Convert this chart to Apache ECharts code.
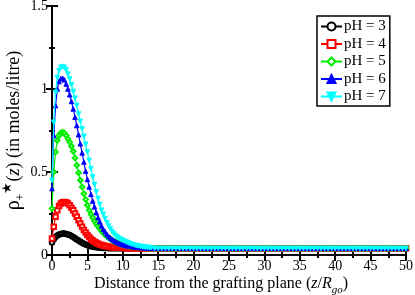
<!DOCTYPE html>
<html>
<head>
<meta charset="utf-8">
<script src="https://cdn.jsdelivr.net/npm/echarts@6/dist/echarts.min.js"></script>
<style>html,body{margin:0;padding:0;background:#fff}#c{width:415px;height:295px}</style>
</head>
<body>
<div id="c"></div>
<script>
// distance z/Rgo grid
var zDense = [0,0.25,0.5,0.75,1,1.25,1.5,1.75,2,2.25,2.5,2.75,3,3.25,3.5,3.75,4,4.25,4.5,4.75,5,5.25,5.5,5.75,6,6.25,6.5,6.75,7,7.25,7.5,7.75,8,8.25,8.5,8.75,9,9.25,9.5,9.75,10,10.25,10.5,10.75,11,11.25,11.5,11.75,12,12.25,12.5,12.75,13,13.25,13.5,13.75,14];
var zTail = [14.5,15,15.5,16,16.5,17,17.5,18,18.5,19,19.5,20,20.5,21,21.5,22,22.5,23,23.5,24,24.5,25,25.5,26,26.5,27,27.5,28,28.5,29,29.5,30,30.5,31,31.5,32,32.5,33,33.5,34,34.5,35,35.5,36,36.5,37,37.5,38,38.5,39,39.5,40,40.5,41,41.5,42,42.5,43,43.5,44,44.5,45,45.5,46,46.5,47,47.5,48,48.5,49,49.5,50];
var rhoTail = [0.04,0.04,0.04,0.04,0.04,0.04,0.04,0.04,0.04,0.04,0.04,0.04,0.04,0.04,0.04,0.04,0.04,0.04,0.04,0.04,0.04,0.04,0.04,0.04,0.04,0.04,0.04,0.04,0.04,0.04,0.04,0.04,0.04,0.04,0.04,0.04,0.04,0.04,0.04,0.04,0.04,0.04,0.04,0.04,0.04,0.04,0.04,0.04,0.04,0.04,0.04,0.04,0.04,0.04,0.04,0.04,0.04,0.04,0.04,0.04,0.04,0.04,0.04,0.04,0.04,0.04,0.04,0.04,0.04,0.04,0.04,0.04];

var seriesNames = ['pH = 3','pH = 4','pH = 5','pH = 6','pH = 7'];
var rhoPH3 = [0.075,0.095,0.108,0.117,0.123,0.127,0.129,0.129,0.127,0.124,0.12,0.115,0.108,0.101,0.094,0.087,0.08,0.074,0.068,0.063,0.059,0.055,0.052,0.05,0.048,0.046,0.045,0.044,0.043,0.0425,0.042,0.0415,0.041,0.04,0.04,0.04,0.04,0.04,0.04,0.04,0.04,0.04,0.04,0.04,0.04,0.04,0.04,0.04,0.04,0.04,0.04,0.04,0.04,0.04,0.04,0.04,0.04];
var rhoPH4 = [0.1,0.17,0.23,0.27,0.295,0.31,0.318,0.32,0.318,0.31,0.3,0.285,0.27,0.25,0.23,0.21,0.19,0.17,0.15,0.135,0.12,0.108,0.097,0.088,0.08,0.074,0.068,0.064,0.06,0.057,0.054,0.052,0.05,0.0485,0.047,0.046,0.045,0.0445,0.044,0.0435,0.043,0.0425,0.0425,0.042,0.042,0.0415,0.0415,0.041,0.041,0.04,0.04,0.04,0.04,0.04,0.04,0.04,0.04];
var rhoPH5 = [0.28,0.5,0.62,0.69,0.72,0.735,0.74,0.735,0.72,0.7,0.68,0.655,0.625,0.585,0.54,0.495,0.45,0.41,0.37,0.335,0.3,0.27,0.245,0.225,0.205,0.188,0.172,0.158,0.145,0.133,0.122,0.112,0.104,0.096,0.089,0.083,0.078,0.073,0.069,0.065,0.062,0.059,0.057,0.055,0.053,0.051,0.05,0.049,0.048,0.047,0.046,0.045,0.044,0.043,0.042,0.041,0.04];
var rhoPH6 = [0.4,0.72,0.9,1.0,1.045,1.062,1.065,1.055,1.03,1.0,0.965,0.925,0.88,0.83,0.78,0.725,0.67,0.615,0.56,0.505,0.455,0.41,0.365,0.325,0.29,0.255,0.225,0.2,0.175,0.155,0.14,0.125,0.112,0.103,0.095,0.087,0.08,0.075,0.07,0.066,0.063,0.06,0.057,0.055,0.053,0.0515,0.05,0.0485,0.047,0.046,0.045,0.0445,0.044,0.0435,0.043,0.0425,0.042];
var rhoPH7 = [0.45,0.8,0.98,1.07,1.11,1.13,1.135,1.13,1.115,1.09,1.06,1.025,0.985,0.945,0.9,0.85,0.805,0.76,0.715,0.667,0.62,0.57,0.52,0.47,0.425,0.38,0.34,0.305,0.27,0.245,0.22,0.195,0.175,0.157,0.14,0.127,0.115,0.107,0.1,0.094,0.088,0.083,0.078,0.073,0.069,0.065,0.062,0.059,0.056,0.054,0.052,0.05,0.048,0.047,0.046,0.045,0.044];

var xTicks = [0,5,10,15,20,25,30,35,40,45,50];
var yTicks = [0,0.5,1,1.5];

var colors = ['#000000','#ff0000','#00ee00','#0000ff','#00ffff'];
var symbols = ['emptyCircle','emptyRect','emptyDiamond','triangle','triangle'];
var rotates = [0,0,0,0,180];
var allRho = [rhoPH3,rhoPH4,rhoPH5,rhoPH6,rhoPH7];

var zAll = zDense.concat(zTail);
var FONT = '"Liberation Serif","DejaVu Serif",serif';

var series = allRho.map(function(r,i){
  var y = r.concat(rhoTail);
  return {
    name: seriesNames[i], type:'line', xAxisIndex:0, yAxisIndex:0,
    data: zAll.map(function(z,k){return [z,y[k]];}),
    symbol: symbols[i], symbolRotate: rotates[i], symbolSize: 4.5, showSymbol:true,
    color: colors[i],
    itemStyle:{color:colors[i], borderColor:colors[i], borderWidth:1},
    lineStyle:{color:colors[i], width:1.2},
    animation:false, z: 2+i
  };
});

var chart = echarts.init(document.getElementById('c'), null, {renderer:'canvas'});
var axisLineStyle = {lineStyle:{color:'#000', width:2}};
chart.setOption({
  backgroundColor:'#fff',
  animation:false,
  grid:{left:52, right:9, top:6, bottom:40, containLabel:false, outerBoundsMode:'none'},
  legend:{
    orient:'vertical', left:317, top:16,
    backgroundColor:'#fff', borderColor:'#000', borderWidth:1.5, borderRadius:0,
    padding:[3,4,2,3], itemGap:2.5, itemWidth:21, itemHeight:10,
    textStyle:{fontFamily:FONT, fontSize:15, color:'#000', padding:[0,0,0,-3]},
    data: seriesNames
  },
  xAxis:[{
    type:'value', min:0, max:50, interval:5, position:'bottom',
    axisLine:axisLineStyle,
    axisTick:{inside:true, length:6, lineStyle:{width:2,color:'#000'}},
    minorTick:{show:true, splitNumber:2, length:3, lineStyle:{width:2,color:'#000'}},
    splitLine:{show:false},
    axisLabel:{fontFamily:FONT, fontSize:14, color:'#000', margin:4,
      formatter:function(v){return xTicks.indexOf(v)>=0? String(v):'';}},
    name:'Distance from the grafting plane ({i|z}/{i|R}{sub|go})',
    nameLocation:'middle', nameGap:16, nameMoveOverlap:false,
    nameTextStyle:{fontFamily:FONT, fontSize:16, color:'#000', padding:[0,16,0,0], verticalAlign:'top',
      rich:{i:{fontFamily:FONT,fontSize:16,fontStyle:'italic',color:'#000'},
            sub:{fontFamily:FONT,fontSize:11,fontStyle:'italic',color:'#000',padding:[14,0,0,0]}}}
  },{
    type:'value', min:0, max:50, interval:5, position:'top',
    axisLine:axisLineStyle,
    axisTick:{inside:true, length:6, lineStyle:{width:2,color:'#000'}},
    minorTick:{show:true, splitNumber:2, length:3, lineStyle:{width:2,color:'#000'}},
    splitLine:{show:false}, axisLabel:{show:false}
  }],
  yAxis:[{
    type:'value', min:0, max:1.5, interval:0.5, position:'left',
    axisLine:axisLineStyle,
    axisTick:{inside:true, length:6, lineStyle:{width:2,color:'#000'}},
    minorTick:{show:true, splitNumber:2, length:3, lineStyle:{width:2,color:'#000'}},
    splitLine:{show:false},
    axisLabel:{fontFamily:FONT, fontSize:14, color:'#000', margin:4,
      formatter:function(v){return yTicks.indexOf(v)>=0? String(v):'';}},
    name:'{r|ρ}{sub|+}{sup|★}({i|z}) (in moles/litre)',
    nameLocation:'middle', nameGap:25, nameRotate:90, nameMoveOverlap:false,
    nameTextStyle:{fontFamily:FONT, fontSize:18, color:'#000',
      rich:{r:{fontFamily:FONT,fontSize:20,color:'#000'},
            i:{fontFamily:FONT,fontSize:18,fontStyle:'italic',color:'#000'},
            sub:{fontFamily:FONT,fontSize:12,color:'#000',padding:[14,0,0,0]},
            sup:{fontFamily:FONT,fontSize:13,color:'#000',padding:[0,0,12,0]}}}
  },{
    type:'value', min:0, max:1.5, interval:0.5, position:'right',
    axisLine:axisLineStyle,
    axisTick:{inside:true, length:6, lineStyle:{width:2,color:'#000'}},
    minorTick:{show:true, splitNumber:2, length:3, lineStyle:{width:2,color:'#000'}},
    splitLine:{show:false}, axisLabel:{show:false}
  }],
  series: series
});
</script>
</body>
</html>
